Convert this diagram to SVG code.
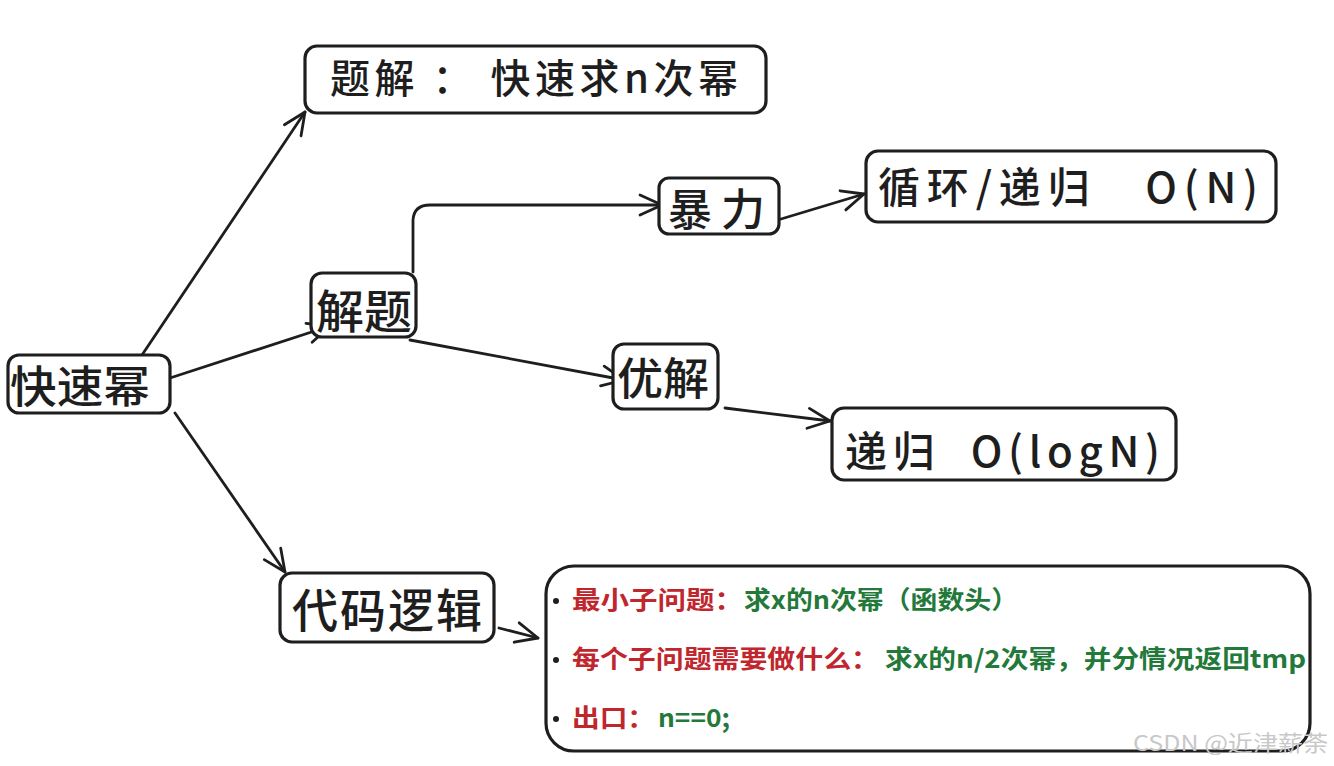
<svg xmlns="http://www.w3.org/2000/svg" width="1334" height="766" viewBox="0 0 1334 766">
<defs>
<style>
.box{fill:#ffffff;stroke:#1e1e1e;stroke-width:3.2;stroke-linejoin:round}
.lbl{font-family:"Noto Sans CJK SC","Noto Sans",sans-serif;fill:#1e1e1e;font-weight:500}
.conn{fill:none;stroke:#1e1e1e;stroke-width:2.8;stroke-linecap:round;stroke-linejoin:round}
.red{font-family:"Noto Sans CJK SC","Liberation Sans",sans-serif;font-weight:700;fill:#c0262d;font-size:25px}
.grn{font-family:"Noto Sans CJK SC","Liberation Sans",sans-serif;font-weight:700;fill:#23793a;font-size:25px}
.wm{font-family:"Noto Sans CJK SC","Liberation Sans",sans-serif;fill:#c8c8c8;font-size:22px}
</style>
<marker id="ah" markerUnits="userSpaceOnUse" markerWidth="32" markerHeight="32" refX="24" refY="16" orient="auto">
<path d="M2,6 L24,16 L2,26" fill="none" stroke="#1e1e1e" stroke-width="2.8" stroke-linecap="round" stroke-linejoin="round"/>
</marker>
</defs>
<rect width="1334" height="766" fill="#ffffff"/>

<g id="connectors">
<path class="conn" d="M142,355 L305,112" marker-end="url(#ah)"/>
<path class="conn" d="M170,378 L330,326" marker-end="url(#ah)"/>
<path class="conn" d="M175,413 L285,572" marker-end="url(#ah)"/>
<path class="conn" d="M413,272 L413,220 Q414,205 430,205 L662,205" marker-end="url(#ah)"/>
<path class="conn" d="M410,340 L624,380" marker-end="url(#ah)"/>
<path class="conn" d="M781,219 L864,194" marker-end="url(#ah)"/>
<path class="conn" d="M725,408 L830,421" marker-end="url(#ah)"/>
<path class="conn" d="M499,628 L538,638" marker-end="url(#ah)"/>
</g>

<g id="node-kuaisumi">
<rect class="box" x="8" y="355" width="162" height="58" rx="11"/>
<text class="lbl" x="10" y="403" font-size="44" textLength="140" lengthAdjust="spacingAndGlyphs">快速幂</text>
</g>

<g id="node-jieti">
<rect class="box" x="311" y="273" width="105" height="64" rx="11"/>
<text class="lbl" x="316" y="328" font-size="46" textLength="96" lengthAdjust="spacingAndGlyphs">解题</text>
</g>

<g id="node-tijie">
<rect class="box" x="305" y="46" width="461" height="67" rx="12"/>
<text class="lbl" x="330" y="93" font-size="40" textLength="408" lengthAdjust="spacing">题解 ： 快速求n次幂</text>
</g>

<g id="node-baoli">
<rect class="box" x="659" y="178" width="120" height="56" rx="10"/>
<text class="lbl" x="668" y="226" font-size="44" textLength="97" lengthAdjust="spacing">暴力</text>
</g>

<g id="node-xunhuan">
<rect class="box" x="866" y="151" width="410" height="71" rx="12"/>
<text class="lbl" x="878" y="203" font-size="42" textLength="380" lengthAdjust="spacing" xml:space="preserve">循环/递归   O(N)</text>
</g>

<g id="node-youjie">
<rect class="box" x="613" y="344" width="105" height="65" rx="11"/>
<text class="lbl" x="617" y="395" font-size="44" textLength="92" lengthAdjust="spacingAndGlyphs">优解</text>
</g>

<g id="node-digui">
<rect class="box" x="832" y="408" width="344" height="72" rx="12"/>
<text class="lbl" x="845" y="467" font-size="42" textLength="315" lengthAdjust="spacing" xml:space="preserve">递归  O(logN)</text>
</g>

<g id="node-daima">
<rect class="box" x="280" y="573" width="214" height="69" rx="12"/>
<text class="lbl" x="292" y="627" font-size="46" textLength="190" lengthAdjust="spacing">代码逻辑</text>
</g>

<g id="node-detail">
<rect class="box" x="546" y="566" width="764" height="185" rx="28"/>
<circle cx="556" cy="601" r="3" fill="#1e1e1e"/>
<circle cx="556" cy="660" r="3" fill="#1e1e1e"/>
<circle cx="556" cy="719" r="3" fill="#1e1e1e"/>
<text class="red" x="572" y="609" textLength="171" lengthAdjust="spacingAndGlyphs">最小子问题：</text>
<text class="grn" x="744" y="609" textLength="274" lengthAdjust="spacingAndGlyphs">求x的n次幂（函数头）</text>
<text class="red" x="572" y="668" textLength="307" lengthAdjust="spacingAndGlyphs">每个子问题需要做什么：</text>
<text class="grn" x="885" y="668" textLength="421" lengthAdjust="spacingAndGlyphs">求x的n/2次幂，并分情况返回tmp</text>
<text class="red" x="572" y="727" textLength="83" lengthAdjust="spacingAndGlyphs">出口：</text>
<text class="grn" x="658" y="727" textLength="72" lengthAdjust="spacingAndGlyphs">n==0;</text>
</g>

<text class="wm" x="1133" y="751" textLength="195" lengthAdjust="spacingAndGlyphs">CSDN @近津薪荼</text>
</svg>
